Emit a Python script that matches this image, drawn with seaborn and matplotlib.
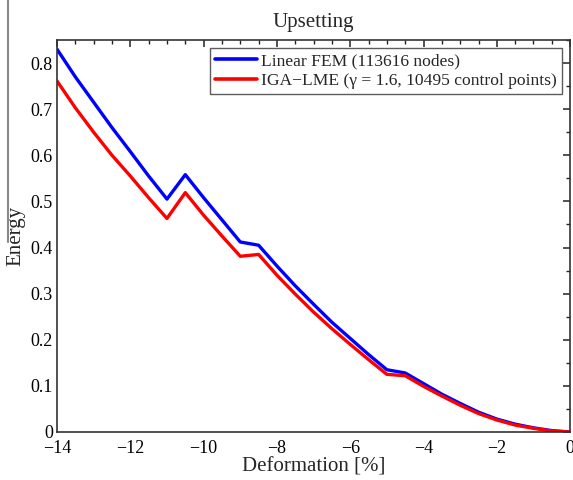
import matplotlib
matplotlib.use("Agg")
import matplotlib.pyplot as plt
import seaborn as sns
import pandas as pd
from matplotlib.lines import Line2D
from matplotlib.ticker import MultipleLocator

# Deformation steps [%]
deformation = [-14, -13.5, -13, -12.5, -12, -11.5, -11, -10.5, -10, -9.5, -9, -8.5,
               -8, -7.5, -7, -6.5, -6, -5.5, -5, -4.5, -4, -3.5, -3, -2.5, -2,
               -1.5, -1, -0.5, 0]

# Energy, linear FEM reference
energy_fem = [0.830, 0.770, 0.715, 0.660, 0.608, 0.555, 0.505, 0.558, 0.508, 0.460,
              0.412, 0.405, 0.360, 0.317, 0.277, 0.238, 0.203, 0.168, 0.135, 0.128,
              0.105, 0.082, 0.062, 0.043, 0.028, 0.017, 0.009, 0.003, 0.0]

# Energy, IGA-LME
energy_iga = [0.761, 0.703, 0.650, 0.600, 0.555, 0.508, 0.463, 0.519, 0.470, 0.425,
              0.381, 0.385, 0.340, 0.299, 0.260, 0.224, 0.190, 0.157, 0.125, 0.122,
              0.099, 0.078, 0.058, 0.040, 0.026, 0.015, 0.008, 0.002, 0.0]

labels = ["Linear FEM (113616 nodes)", "IGA\u2212LME (\u03b3 = 1.6, 10495 control points)"]

df = pd.concat([
    pd.DataFrame({"Deformation": deformation, "Energy": energy_fem, "Method": labels[0]}),
    pd.DataFrame({"Deformation": deformation, "Energy": energy_iga, "Method": labels[1]}),
])

sns.set_theme(style="white")
plt.rcParams["font.family"] = ["Liberation Serif", "DejaVu Serif"]
plt.rcParams["axes.unicode_minus"] = True

fig = plt.figure(figsize=(5.73, 4.8), dpi=100)
ax = fig.add_axes([0.0995, 0.1, 0.8955, 0.8167])

sns.lineplot(data=df, x="Deformation", y="Energy", hue="Method",
             palette=["#0000ff", "#ff0000"], linewidth=2.4, ax=ax,
             estimator=None, sort=False)

ax.set_xlim(-14, 0)
ax.set_ylim(0, 0.85)
ax.xaxis.set_major_locator(MultipleLocator(2))
ax.xaxis.set_minor_locator(MultipleLocator(0.5))
ax.yaxis.set_major_locator(MultipleLocator(0.1))
ax.yaxis.set_minor_locator(MultipleLocator(0.05))
ax.set_yticks([i / 10 for i in range(9)])
ax.set_yticklabels([f"{i / 10:g}" for i in range(9)])
ax.tick_params(which="both", direction="in", top=True, right=True,
               labelsize=13, colors="#222222", labelcolor="black")
ax.tick_params(axis="x", which="major", pad=6)
ax.tick_params(axis="y", which="major", pad=3)
ax.tick_params(which="major", length=5, width=1.1)
ax.tick_params(which="minor", length=3, width=1.0)
for s in ax.spines.values():
    s.set_color("#333333")
    s.set_linewidth(1.2)

ax.set_title("Upsetting", fontsize=15, pad=9)
ax.set_xlabel("Deformation [%]", fontsize=15, labelpad=0)
ax.set_ylabel("Energy", fontsize=15, labelpad=4)

leg = ax.legend(title=None, loc="upper right", fontsize=12.6, frameon=True,
                fancybox=False, borderpad=0.3, handlelength=2.4,
                handletextpad=0.25, labelspacing=0.2, borderaxespad=0.45)
leg.get_frame().set_edgecolor("#333333")
leg.get_frame().set_linewidth(1.0)
for line in leg.get_lines():
    line.set_linewidth(2.6)

fig.add_artist(Line2D([0.014, 0.014], [1.0, 0.495], transform=fig.transFigure,
                      color="#888888", linewidth=1.5))

fig.savefig("out.png", dpi=100, facecolor="white")
